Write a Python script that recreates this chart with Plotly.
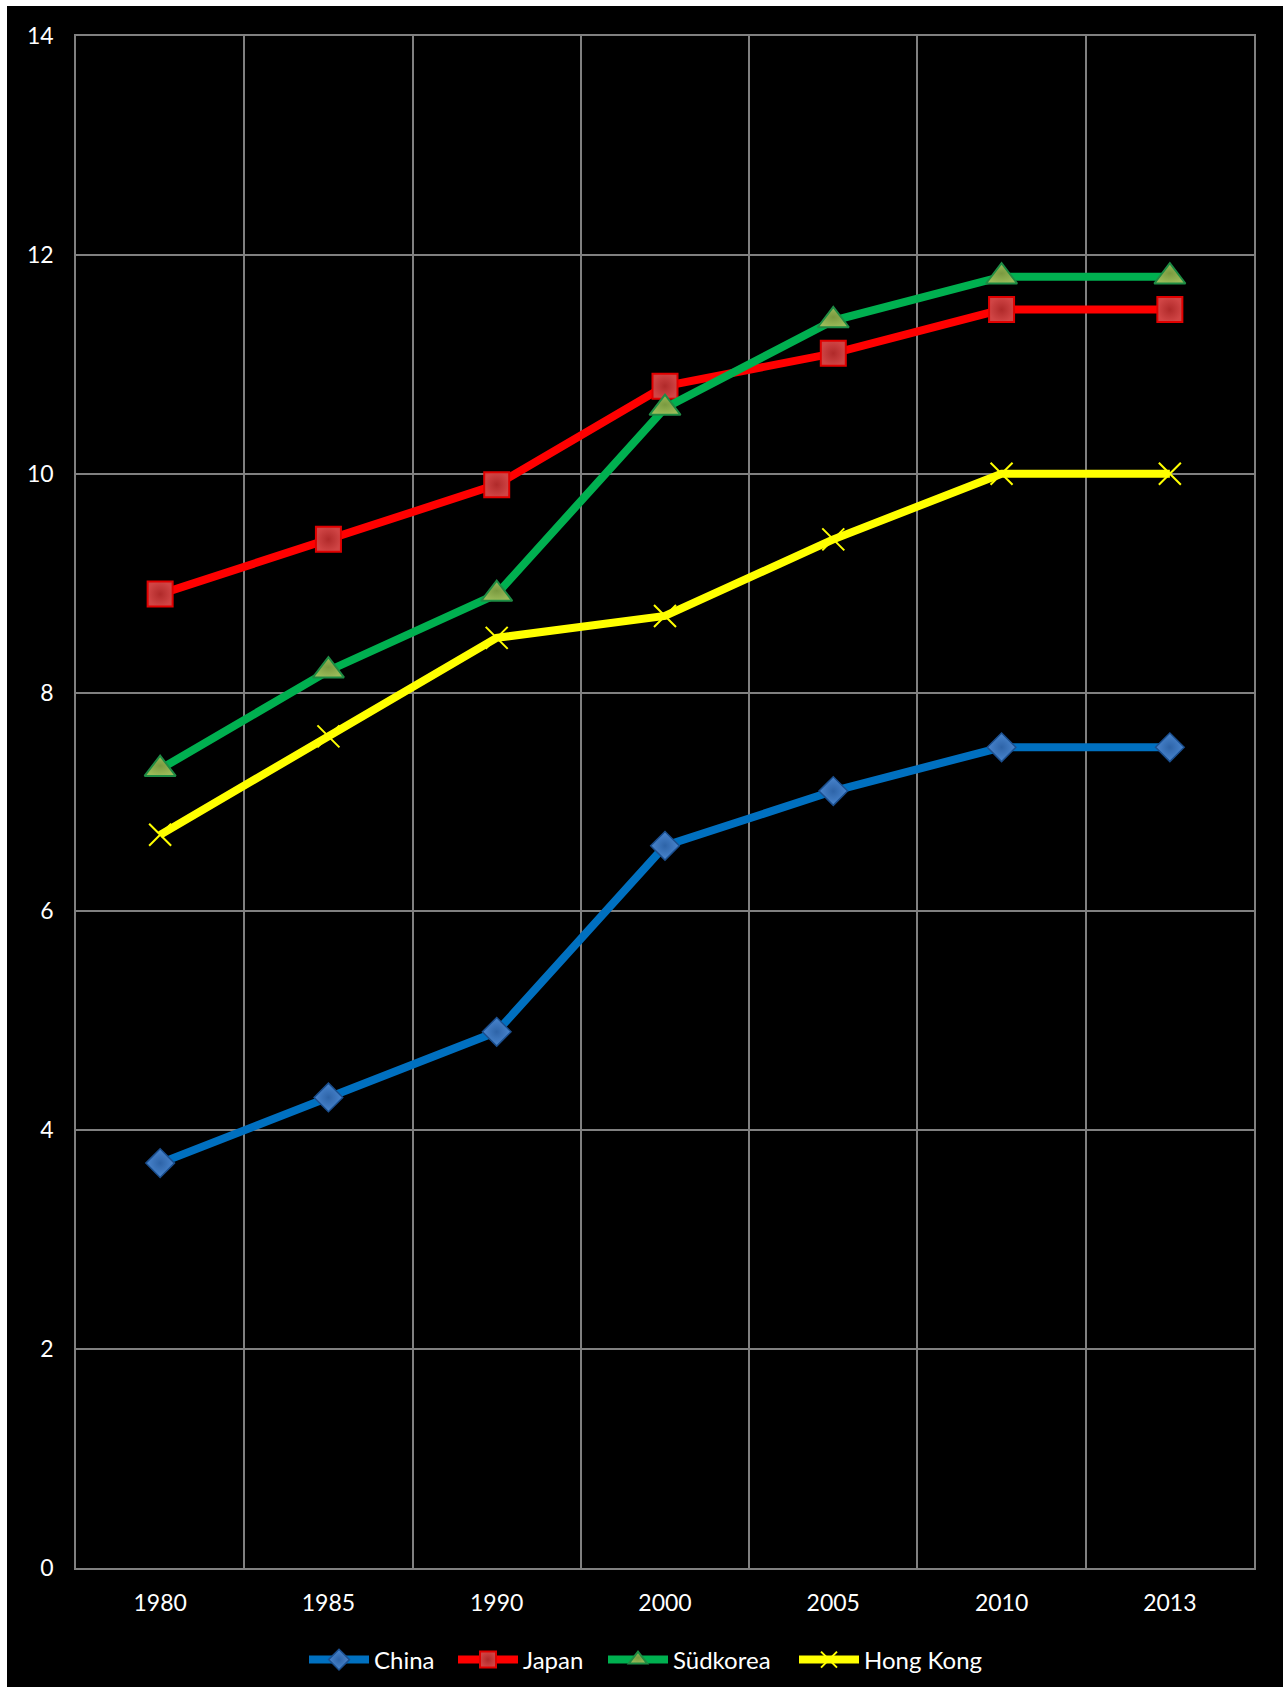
import plotly.graph_objects as go

years = ["1980", "1985", "1990", "2000", "2005", "2010", "2013"]
china = [3.7, 4.3, 4.9, 6.6, 7.1, 7.5, 7.5]
japan = [8.9, 9.4, 9.9, 10.8, 11.1, 11.5, 11.5]
suedkorea = [7.3, 8.2, 8.9, 10.6, 11.4, 11.8, 11.8]
hongkong = [6.7, 7.6, 8.5, 8.7, 9.4, 10.0, 10.0]
y_ticks = [0, 2, 4, 6, 8, 10, 12, 14]

W, H = 1287, 1693
ML, MR, MT, MB = 76, 33, 36, 124
PW, PH = W - ML - MR, H - MT - MB


def px_x(p):
    return (p - ML) / PW


def px_y(p):
    return (H - MB - p) / PH


series = [
    ("China", china, "#0070C0", 304,
     dict(symbol="diamond", size=22, color="#4A86CF",
          gradient=dict(type="radial", color="#2E64A8"),
          line=dict(color="#1B4F8F", width=1.5))),
    ("Japan", japan, "#FF0000", 453,
     dict(symbol="square", size=25, color="#D04545",
          gradient=dict(type="radial", color="#B02A2A"),
          line=dict(color="#E00000", width=2))),
    ("Südkorea", suedkorea, "#00B050", 603,
     dict(symbol="triangle-up", size=27, color="#9BBB59",
          gradient=dict(type="radial", color="#7A9A40"),
          line=dict(color="#1E8C44", width=2))),
    ("Hong Kong", hongkong, "#FFFF00", 794,
     dict(symbol="x-thin", size=22, color="#FFFF00",
          line=dict(color="#FFFF00", width=2))),
]

font = dict(family="Lato, 'Open Sans', sans-serif", color="white", size=23)
legend_font = dict(font, size=24)

fig = go.Figure()
legends = {}
for i, (name, vals, col, lx, mk) in enumerate(series):
    key = "legend" if i == 0 else f"legend{i + 1}"
    fig.add_trace(go.Scatter(
        x=years, y=vals, name=name, mode="lines+markers",
        line=dict(color=col, width=8),
        marker=mk, legend=key,
    ))
    legends[key] = dict(x=px_x(lx), xanchor="left",
                        y=px_y(1660), yanchor="middle",
                        font=legend_font, bgcolor="rgba(0,0,0,0)",
                        itemwidth=60, borderwidth=0)

fig.update_layout(
    width=W, height=H,
    margin=dict(l=ML, r=MR, t=MT, b=MB),
    paper_bgcolor="white",
    plot_bgcolor="rgba(0,0,0,0)",
    font=font,
    showlegend=True,
    shapes=[dict(type="rect", xref="paper", yref="paper",
                 x0=px_x(7), x1=px_x(1283), y0=px_y(1688), y1=px_y(6),
                 fillcolor="black", line=dict(width=0), layer="below")],
    xaxis=dict(type="category", tickson="boundaries",
               range=[-0.5, 6.5], showgrid=True, gridcolor="#808080",
               gridwidth=1.5, showline=True, linecolor="#808080",
               linewidth=1.5, mirror=True, ticks="", zeroline=False,
               ticklabelstandoff=14, tickfont=font),
    yaxis=dict(range=[0, 14], tickvals=y_ticks, showgrid=True,
               gridcolor="#808080", gridwidth=1.5, showline=True,
               linecolor="#808080", linewidth=1.5, mirror=True,
               ticks="", zeroline=False, ticklabelstandoff=16,
               tickfont=font),
    **legends,
)

fig.write_html("out.html")
